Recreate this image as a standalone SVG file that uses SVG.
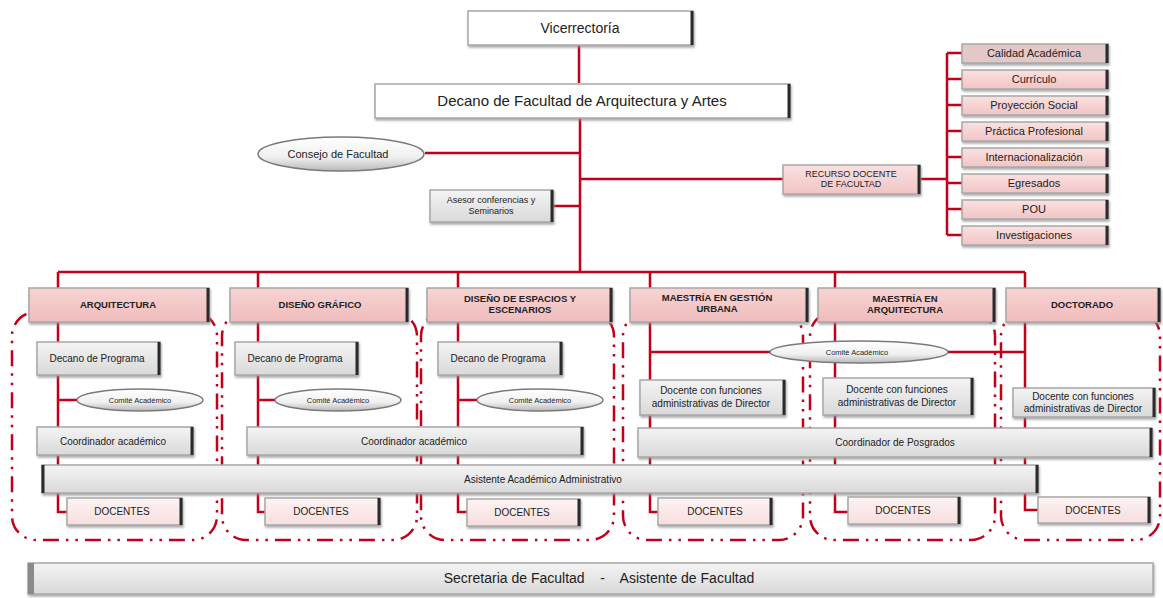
<svg xmlns="http://www.w3.org/2000/svg" width="1163" height="598" viewBox="0 0 1163 598">
<defs>
<linearGradient id="gGray" x1="0" y1="0" x2="0" y2="1"><stop offset="0" stop-color="#f4f4f4"/><stop offset="1" stop-color="#d9d9d9"/></linearGradient>
<linearGradient id="gPink" x1="0" y1="0" x2="0" y2="1"><stop offset="0" stop-color="#fbe1e1"/><stop offset="1" stop-color="#f1c4c4"/></linearGradient>
<linearGradient id="gHead" x1="0" y1="0" x2="0" y2="1"><stop offset="0" stop-color="#f8d3d3"/><stop offset="1" stop-color="#f0bcbc"/></linearGradient>
<linearGradient id="gLight" x1="0" y1="0" x2="0" y2="1"><stop offset="0" stop-color="#fdf3f3"/><stop offset="1" stop-color="#f7dede"/></linearGradient>
<linearGradient id="gEll" x1="0" y1="0" x2="0" y2="1"><stop offset="0" stop-color="#ffffff"/><stop offset="0.6" stop-color="#f0f0f0"/><stop offset="1" stop-color="#b8b8b8"/></linearGradient>
<filter id="ds" x="-5%" y="-20%" width="110%" height="150%"><feDropShadow dx="1" dy="2" stdDeviation="1" flood-color="#8a8a8a" flood-opacity="0.7"/></filter>
<style>
.b{stroke:#a8a8a8;stroke-width:1.5;filter:url(#ds)}
.w{fill:#ffffff}
.g{fill:url(#gGray)}
.p{fill:url(#gPink)}
.h{fill:url(#gHead)}
.l{fill:url(#gLight)}
.e{stroke:#2a2a2a;stroke-width:3}
.el{fill:url(#gEll);stroke:#7a7a7a;stroke-width:1.5}
.ln{stroke:#c20019;stroke-width:2.5;fill:none}
.fr{stroke:#c20019;stroke-width:2.5;fill:none;stroke-dasharray:16 7 2.5 7 2.5 7}
text{font-family:"Liberation Sans",Arial,sans-serif;fill:#222;text-anchor:middle}
.t15{font-size:15px}
.t14{font-size:14px}
.t11{font-size:11px}
.t10{font-size:10px}
.t9{font-size:9px}
.t7{font-size:7.5px}
.hb{font-size:9.5px;font-weight:bold}
</style>
</defs>
<rect width="1163" height="598" fill="#ffffff"/>

<g id="frames">
<rect class="fr" x="12" y="312" width="205" height="228" rx="24"/>
<rect class="fr" x="222" y="312" width="195" height="228" rx="24"/>
<rect class="fr" x="421" y="312" width="193" height="228" rx="24"/>
<rect class="fr" x="623" y="312" width="180" height="228" rx="24"/>
<rect class="fr" x="810" y="312" width="185" height="228" rx="24"/>
<rect class="fr" x="1001" y="312" width="159" height="228" rx="24"/>
</g>

<g id="connectors">
<path class="ln" d="M579 45V83"/>
<path class="ln" d="M580 118V272"/>
<path class="ln" d="M425 153H580"/>
<path class="ln" d="M580 179H783"/>
<path class="ln" d="M553 206H580"/>
<path class="ln" d="M920 179H947"/>
<path class="ln" d="M947 53V235M947 53H962M947 79H962M947 105H962M947 131H962M947 157H962M947 183H962M947 209H962M947 235H962"/>
<path class="ln" d="M58 272H1025"/>
<path class="ln" d="M58 272V512H67M58 400H77"/>
<path class="ln" d="M258 272V512H265M258 400H275"/>
<path class="ln" d="M458 272V512H467M458 400H477"/>
<path class="ln" d="M650 272V512H658M650 352H770"/>
<path class="ln" d="M835 272V512H848"/>
<path class="ln" d="M1025 272V510H1038M948 352H1025"/>
</g>

<g id="vicerrectoria">
<rect class="b w" x="468" y="11" width="225" height="34"/>
<line class="e" x1="692" y1="11" x2="692" y2="45"/>
<text class="t14" x="580" y="33">Vicerrectoría</text>
</g>

<g id="decano-facultad">
<rect class="b w" x="375" y="84" width="415" height="34"/>
<line class="e" x1="789" y1="84" x2="789" y2="118"/>
<text class="t15" x="582" y="106">Decano de Facultad de Arquitectura y Artes</text>
</g>

<g id="consejo">
<ellipse class="el" cx="341" cy="154" rx="83" ry="17"/>
<text class="t11" x="338" y="158">Consejo de Facultad</text>
</g>

<g id="asesor">
<rect class="b g" x="430" y="190" width="123" height="32"/>
<line class="e" x1="552" y1="190" x2="552" y2="222"/>
<text class="t9" x="491" y="203">Asesor conferencias y</text>
<text class="t9" x="491" y="214">Seminarios</text>
</g>

<g id="recurso">
<rect class="b p" x="783" y="165" width="137" height="29"/>
<line class="e" x1="919" y1="165" x2="919" y2="194"/>
<text class="t9" x="851" y="177">RECURSO DOCENTE</text>
<text class="t9" x="851" y="187">DE FACULTAD</text>
</g>

<g id="lista">
<g id="calidad"><rect class="b" fill="#e4c8c8" x="962" y="44" width="146" height="19"/><line class="e" x1="1107" y1="44" x2="1107" y2="63"/><text class="t11" x="1034" y="57">Calidad Académica</text></g>
<g id="curriculo"><rect class="b p" x="962" y="70" width="146" height="19"/><line class="e" x1="1107" y1="70" x2="1107" y2="89"/><text class="t11" x="1034" y="83">Currículo</text></g>
<g id="proyeccion"><rect class="b p" x="962" y="96" width="146" height="19"/><line class="e" x1="1107" y1="96" x2="1107" y2="115"/><text class="t11" x="1034" y="109">Proyección Social</text></g>
<g id="practica"><rect class="b p" x="962" y="122" width="146" height="19"/><line class="e" x1="1107" y1="122" x2="1107" y2="141"/><text class="t11" x="1034" y="135">Práctica Profesional</text></g>
<g id="internacionalizacion"><rect class="b p" x="962" y="148" width="146" height="19"/><line class="e" x1="1107" y1="148" x2="1107" y2="167"/><text class="t11" x="1034" y="161">Internacionalización</text></g>
<g id="egresados"><rect class="b p" x="962" y="174" width="146" height="19"/><line class="e" x1="1107" y1="174" x2="1107" y2="193"/><text class="t11" x="1034" y="187">Egresados</text></g>
<g id="pou"><rect class="b p" x="962" y="200" width="146" height="19"/><line class="e" x1="1107" y1="200" x2="1107" y2="219"/><text class="t11" x="1034" y="213">POU</text></g>
<g id="investigaciones"><rect class="b p" x="962" y="226" width="146" height="19"/><line class="e" x1="1107" y1="226" x2="1107" y2="245"/><text class="t11" x="1034" y="239">Investigaciones</text></g>
</g>

<g id="arquitectura"><rect class="b h" x="29" y="288" width="180" height="34"/><line class="e" x1="208" y1="288" x2="208" y2="322"/><text class="hb" x="118" y="308">ARQUITECTURA</text></g>
<g id="diseno-grafico"><rect class="b h" x="230" y="288" width="178" height="34"/><line class="e" x1="407" y1="288" x2="407" y2="322"/><text class="hb" x="320" y="308">DISEÑO GRÁFICO</text></g>
<g id="diseno-espacios"><rect class="b h" x="427" y="288" width="185" height="34"/><line class="e" x1="611" y1="288" x2="611" y2="322"/><text class="hb" x="520" y="302">DISEÑO DE ESPACIOS Y</text><text class="hb" x="520" y="313">ESCENARIOS</text></g>
<g id="maestria-gestion"><rect class="b h" x="630" y="288" width="178" height="34"/><line class="e" x1="807" y1="288" x2="807" y2="322"/><text class="hb" x="717" y="301">MAESTRÍA EN GESTIÓN</text><text class="hb" x="717" y="312">URBANA</text></g>
<g id="maestria-arquitectura"><rect class="b h" x="818" y="288" width="177" height="34"/><line class="e" x1="994" y1="288" x2="994" y2="322"/><text class="hb" x="905" y="302">MAESTRÍA EN</text><text class="hb" x="905" y="313">ARQUITECTURA</text></g>
<g id="doctorado"><rect class="b h" x="1006" y="288" width="154" height="34"/><line class="e" x1="1159" y1="288" x2="1159" y2="322"/><text class="hb" x="1082" y="308">DOCTORADO</text></g>

<g id="decano-prog-1"><rect class="b g" x="37" y="342" width="123" height="33"/><line class="e" x1="159" y1="342" x2="159" y2="375"/><text class="t10" x="97" y="362">Decano de Programa</text></g>
<g id="comite-1"><ellipse class="el" cx="140" cy="400" rx="63" ry="11"/><text class="t7" x="140" y="403">Comité Académico</text></g>
<g id="coord-1"><rect class="b g" x="37" y="427" width="156" height="28"/><line class="e" x1="192" y1="427" x2="192" y2="455"/><text class="t10" x="113" y="445">Coordinador académico</text></g>
<g id="docentes-1"><rect class="b l" x="67" y="498" width="115" height="27"/><line class="e" x1="181" y1="498" x2="181" y2="525"/><text class="t10" x="122" y="515">DOCENTES</text></g>

<g id="decano-prog-2"><rect class="b g" x="235" y="342" width="123" height="33"/><line class="e" x1="357" y1="342" x2="357" y2="375"/><text class="t10" x="295" y="362">Decano de Programa</text></g>
<g id="comite-2"><ellipse class="el" cx="338" cy="400" rx="63" ry="11"/><text class="t7" x="338" y="403">Comité Académico</text></g>
<g id="coord-2"><rect class="b g" x="247" y="427" width="336" height="28"/><line class="e" x1="582" y1="427" x2="582" y2="455"/><text class="t10" x="414" y="445">Coordinador académico</text></g>
<g id="docentes-2"><rect class="b l" x="265" y="498" width="115" height="27"/><line class="e" x1="379" y1="498" x2="379" y2="525"/><text class="t10" x="321" y="515">DOCENTES</text></g>

<g id="decano-prog-3"><rect class="b g" x="438" y="342" width="124" height="33"/><line class="e" x1="561" y1="342" x2="561" y2="375"/><text class="t10" x="498" y="362">Decano de Programa</text></g>
<g id="comite-3"><ellipse class="el" cx="540" cy="400" rx="63" ry="11"/><text class="t7" x="540" y="403">Comité Académico</text></g>
<g id="docentes-3"><rect class="b l" x="467" y="499" width="113" height="27"/><line class="e" x1="579" y1="499" x2="579" y2="526"/><text class="t10" x="522" y="516">DOCENTES</text></g>

<g id="comite-posgrado"><ellipse class="el" cx="859" cy="352" rx="89" ry="11"/><text class="t7" x="857" y="355">Comité Académico</text></g>
<g id="docente-dir-4"><rect class="b g" x="640" y="380" width="145" height="35"/><line class="e" x1="784" y1="380" x2="784" y2="415"/><text class="t10" x="711" y="394">Docente con funciones</text><text class="t10" x="711" y="407">administrativas de Director</text></g>
<g id="docente-dir-5"><rect class="b g" x="823" y="378" width="150" height="37"/><line class="e" x1="972" y1="378" x2="972" y2="415"/><text class="t10" x="897" y="393">Docente con funciones</text><text class="t10" x="897" y="406">administrativas de Director</text></g>
<g id="docente-dir-6"><rect class="b g" x="1013" y="388" width="142" height="29"/><line class="e" x1="1154" y1="388" x2="1154" y2="417"/><text class="t10" x="1083" y="400">Docente con funciones</text><text class="t10" x="1083" y="412">administrativas de Director</text></g>
<g id="coord-posgrados"><rect class="b g" x="638" y="428" width="514" height="29"/><line class="e" x1="1151" y1="428" x2="1151" y2="457"/><text class="t10" x="895" y="446">Coordinador de Posgrados</text></g>

<g id="asistente"><rect class="b g" x="42" y="465" width="996" height="28"/><line class="e" x1="43" y1="465" x2="43" y2="493" stroke="#8a8a8a"/><line class="e" x1="1037" y1="465" x2="1037" y2="493"/><text class="t10" x="543" y="483">Asistente Académico Administrativo</text></g>

<g id="docentes-4"><rect class="b l" x="658" y="498" width="114" height="27"/><line class="e" x1="771" y1="498" x2="771" y2="525"/><text class="t10" x="715" y="515">DOCENTES</text></g>
<g id="docentes-5"><rect class="b l" x="848" y="497" width="112" height="27"/><line class="e" x1="959" y1="497" x2="959" y2="524"/><text class="t10" x="903" y="514">DOCENTES</text></g>
<g id="docentes-6"><rect class="b l" x="1038" y="497" width="112" height="26"/><line class="e" x1="1149" y1="497" x2="1149" y2="523"/><text class="t10" x="1093" y="514">DOCENTES</text></g>

<g id="secretaria"><rect class="b g" x="28" y="563" width="1125" height="31"/><line x1="31" y1="563" x2="31" y2="594" stroke="#8a8a8a" stroke-width="6"/><text class="t14" x="599" y="583" xml:space="preserve">Secretaria de Facultad    -    Asistente de Facultad</text></g>
</svg>
